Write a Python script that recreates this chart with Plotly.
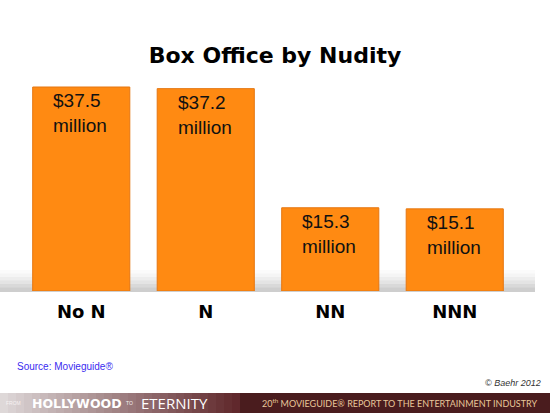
import plotly.graph_objects as go

categories = ['No N', 'N', 'NN', 'NNN']
box_office = [37.5, 37.2, 15.3, 15.1]
bar_labels = ['$37.5<br>million', '$37.2<br>million', '$15.3<br>million', '$15.1<br>million']

title = 'Box Office by Nudity'
source_note = 'Source: Movieguide®'
copyright_note = '© Baehr 2012'

orange = '#FF8A12'
edge = '#E57610'

# plot area in page pixels: x 19..517, y 80..291
PL, PR, PT, PB = 19, 517, 80, 291


def px_x(x):
    return (x - PL) / (PR - PL)


def px_y(y):
    return (PB - y) / (PB - PT)


fig = go.Figure()
fig.add_trace(go.Bar(x=categories, y=box_office, width=0.78,
                     marker=dict(color=orange, line=dict(color=edge, width=1)),
                     hoverinfo='skip', showlegend=False))

# value labels sit inside the top of each bar
for cat, val, txt in zip(categories, box_office, bar_labels):
    fig.add_annotation(x=cat, y=val, text=txt, showarrow=False, xanchor='center', yanchor='top',
                       align='left', yshift=-1, xshift=-1,
                       font=dict(family='Liberation Sans, Arial', size=19, color='#111111'))

shapes = []
# soft floor shadow behind the bars
for i, op in enumerate([0.025, 0.035, 0.045, 0.055, 0.065, 0.075]):
    y_top = 270 + i * 3.5
    shapes.append(dict(type='rect', xref='paper', yref='paper',
                       x0=px_x(0), x1=px_x(535),
                       y0=px_y(292), y1=px_y(y_top),
                       line=dict(width=0), fillcolor=f'rgba(80,80,80,{op})', layer='below'))

# bottom banner: gradient grey -> maroon on the left, dark maroon strip on the right
n = 30
for i in range(n):
    t = i / (n - 1)
    r = int(222 + (96 - 222) * t)
    g = int(216 + (40 - 216) * t)
    b = int(216 + (44 - 216) * t)
    x0 = i * 240 / n
    shapes.append(dict(type='rect', xref='paper', yref='paper',
                       x0=px_x(x0), x1=px_x(x0 + 240 / n + 1),
                       y0=px_y(413), y1=px_y(393),
                       line=dict(width=0), fillcolor=f'rgb({r},{g},{b})'))
shapes.append(dict(type='rect', xref='paper', yref='paper',
                   x0=px_x(240), x1=px_x(550),
                   y0=px_y(413), y1=px_y(393),
                   line=dict(width=0), fillcolor='#4A1C1E'))

banner = [
    (6, 'FROM', 5, 'Liberation Sans', '#f7f2f2'),
    (32, '<b>HOLLYWOOD</b>', 12.5, 'DejaVu Sans', '#ffffff'),
    (126, 'TO', 5, 'Liberation Sans', '#f4efef'),
    (141, 'ETERNITY', 15, 'Open Sans', '#ffffff'),
    (262, '20<sup>th</sup> MOVIEGUIDE® REPORT TO THE ENTERTAINMENT INDUSTRY', 9, 'Lato', '#E8C79A'),
]
for x, txt, size, fam, col in banner:
    fig.add_annotation(xref='paper', yref='paper', x=px_x(x), y=px_y(403), text=txt,
                       showarrow=False, xanchor='left', yanchor='middle', xshift=-2,
                       font=dict(family=fam, size=size, color=col))

fig.add_annotation(xref='paper', yref='paper', x=px_x(17), y=px_y(366), text=source_note,
                   showarrow=False, xanchor='left', yanchor='middle', xshift=-2,
                   font=dict(family='Liberation Sans, Arial', size=10, color='#3B2CF0'))
fig.add_annotation(xref='paper', yref='paper', x=px_x(541), y=px_y(383), text=f'<i>{copyright_note}</i>',
                   showarrow=False, xanchor='right', yanchor='middle', xshift=2,
                   font=dict(family='Liberation Sans, Arial', size=9, color='#333333'))

fig.update_layout(
    width=550, height=413,
    margin=dict(l=PL, r=550 - PR, t=PT, b=413 - PB),
    paper_bgcolor='white', plot_bgcolor='white',
    title=dict(text=f'<b>{title}</b>', x=0.5, xanchor='center', y=1 - 55 / 413, yanchor='middle',
               font=dict(family='DejaVu Sans', size=22, color='black')),
    shapes=shapes,
    bargap=0.22,
)
fig.update_xaxes(showline=False, showgrid=False, zeroline=False, ticks='', ticklabelstandoff=8,
                 tickfont=dict(family='DejaVu Sans', size=18, color='black', weight='bold'))
fig.update_yaxes(range=[0, 37.5 * (PB - PT) / (PB - 87)], visible=False)

# page body has a default 8px margin; drop it so the figure fills the window
fig.write_html('out.html', config={'displayModeBar': False},
               post_script="document.body.style.margin='0';")
